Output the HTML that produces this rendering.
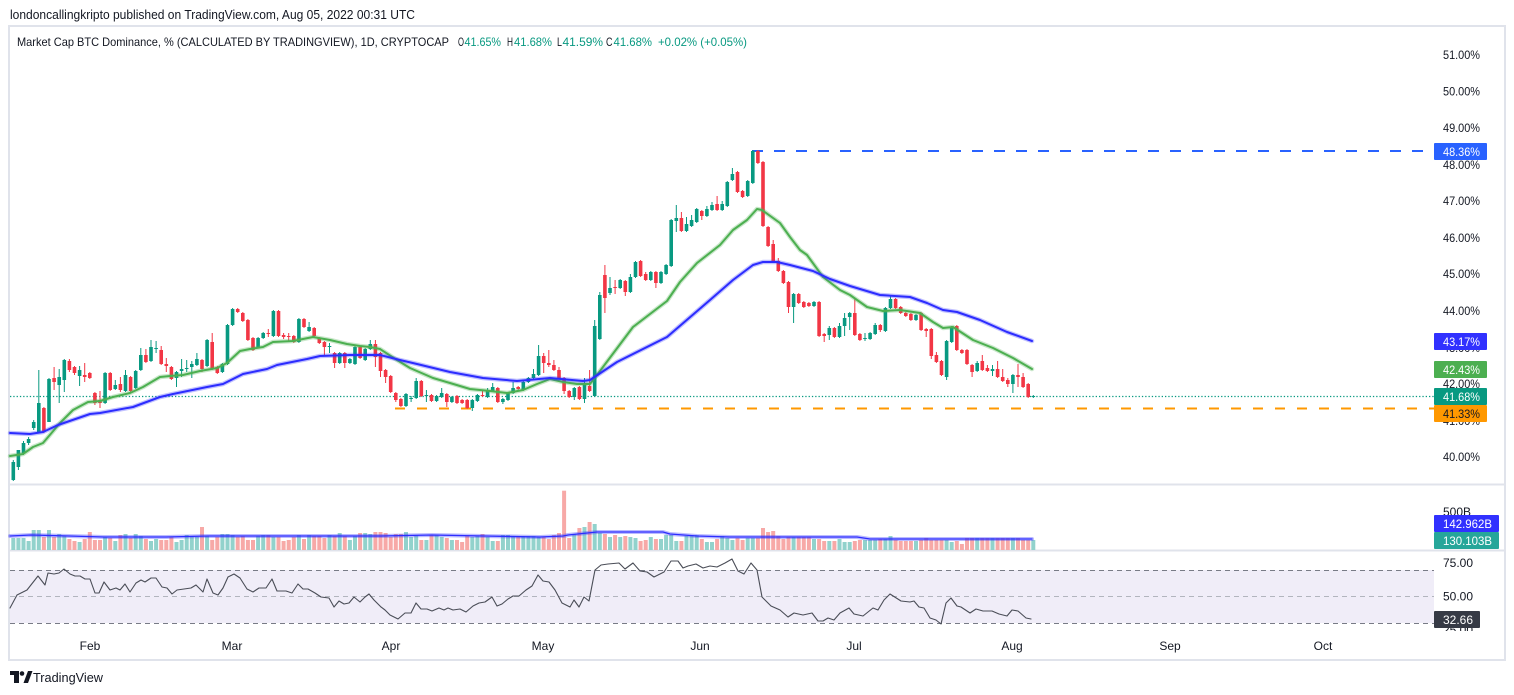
<!DOCTYPE html>
<html><head><meta charset="utf-8">
<style>
html,body{margin:0;padding:0;background:#fff;width:1514px;height:695px;overflow:hidden}
svg{display:block;font-family:"Liberation Sans",sans-serif}
</style></head><body>
<svg id="s" width="1514" height="695" viewBox="0 0 1514 695" xmlns="http://www.w3.org/2000/svg">
<rect width="1514" height="695" fill="#fff"/>
<text x="10" y="19" font-size="12.5" fill="#131722" textLength="405" lengthAdjust="spacingAndGlyphs">londoncallingkripto published on TradingView.com, Aug 05, 2022 00:31 UTC</text>
<rect x="9" y="26" width="1496" height="634" fill="none" stroke="#e0e3eb" stroke-width="2"/>
<line x1="9" y1="484.5" x2="1505" y2="484.5" stroke="#e0e3eb" stroke-width="2"/>
<line x1="9" y1="550.5" x2="1505" y2="550.5" stroke="#e0e3eb" stroke-width="2"/>

<!-- legend -->
<g font-size="12" fill="#131722">
<text x="17" y="46" textLength="432" lengthAdjust="spacingAndGlyphs">Market Cap BTC Dominance, % (CALCULATED BY TRADINGVIEW), 1D, CRYPTOCAP</text>
<text x="458" y="46" textLength="6" lengthAdjust="spacingAndGlyphs">O</text><text x="464.5" y="46" fill="#089981" textLength="36.5" lengthAdjust="spacingAndGlyphs">41.65%</text>
<text x="507" y="46" textLength="6" lengthAdjust="spacingAndGlyphs">H</text><text x="514" y="46" fill="#089981" textLength="38" lengthAdjust="spacingAndGlyphs">41.68%</text>
<text x="557" y="46" textLength="5" lengthAdjust="spacingAndGlyphs">L</text><text x="562.5" y="46" fill="#089981" textLength="40.5" lengthAdjust="spacingAndGlyphs">41.59%</text>
<text x="606" y="46" textLength="6.5" lengthAdjust="spacingAndGlyphs">C</text><text x="613.5" y="46" fill="#089981" textLength="38.5" lengthAdjust="spacingAndGlyphs">41.68%</text>
<text x="658" y="46" fill="#089981" textLength="89" lengthAdjust="spacingAndGlyphs">+0.02% (+0.05%)</text>
</g>

<!-- RSI band -->
<rect x="10" y="570" width="1424" height="53" fill="#f0edf8"/>
<line x1="10" y1="570.5" x2="1434" y2="570.5" stroke="#787b86" stroke-dasharray="5,4"/>
<line x1="10" y1="596.5" x2="1434" y2="596.5" stroke="#b2b5be" stroke-dasharray="5,4"/>
<line x1="10" y1="623.5" x2="1434" y2="623.5" stroke="#787b86" stroke-dasharray="5,4"/>

<!-- horizontal levels -->
<line x1="10" y1="396.5" x2="1434" y2="396.5" stroke="#089981" stroke-width="1.3" stroke-dasharray="1.3,2"/>
<line x1="752" y1="151" x2="1434" y2="151" stroke="#2962ff" stroke-width="2" stroke-dasharray="11,11"/>
<line x1="395" y1="408.5" x2="1434" y2="408.5" stroke="#ff9800" stroke-width="2" stroke-dasharray="10,12"/>

<g id="vol"></g>
<g id="cdl"></g>
<g id="lines"></g>

<!-- price axis -->
<g font-size="12" fill="#131722">
<text x="1443" y="59" textLength="37" lengthAdjust="spacingAndGlyphs">51.00%</text>
<text x="1443" y="95.5" textLength="37" lengthAdjust="spacingAndGlyphs">50.00%</text>
<text x="1443" y="132" textLength="37" lengthAdjust="spacingAndGlyphs">49.00%</text>
<text x="1443" y="169" textLength="37" lengthAdjust="spacingAndGlyphs">48.00%</text>
<text x="1443" y="205" textLength="37" lengthAdjust="spacingAndGlyphs">47.00%</text>
<text x="1443" y="242" textLength="37" lengthAdjust="spacingAndGlyphs">46.00%</text>
<text x="1443" y="278" textLength="37" lengthAdjust="spacingAndGlyphs">45.00%</text>
<text x="1443" y="315" textLength="37" lengthAdjust="spacingAndGlyphs">44.00%</text>
<text x="1443" y="352" textLength="37" lengthAdjust="spacingAndGlyphs">43.00%</text>
<text x="1443" y="388" textLength="37" lengthAdjust="spacingAndGlyphs">42.00%</text>
<text x="1443" y="425" textLength="37" lengthAdjust="spacingAndGlyphs">41.00%</text>
<text x="1443" y="461" textLength="37" lengthAdjust="spacingAndGlyphs">40.00%</text>
<text x="1443" y="516" textLength="28" lengthAdjust="spacingAndGlyphs">500B</text>
<text x="1443" y="567" textLength="30" lengthAdjust="spacingAndGlyphs">75.00</text>
<text x="1443" y="600.5" textLength="30" lengthAdjust="spacingAndGlyphs">50.00</text>
<text x="1443" y="634" textLength="30" lengthAdjust="spacingAndGlyphs">25.00</text>
</g>
<rect x="1434" y="631" width="70" height="8" fill="#fff"/>

<!-- tags -->
<g font-size="12">
<rect x="1434" y="143" width="53" height="17" rx="1" fill="#2962ff"/>
<text x="1443" y="156" fill="#fff" textLength="37" lengthAdjust="spacingAndGlyphs">48.36%</text>
<rect x="1434" y="333" width="53" height="17" rx="1" fill="#3131ff"/>
<text x="1443" y="346" fill="#fff" textLength="37" lengthAdjust="spacingAndGlyphs">43.17%</text>
<rect x="1434" y="361" width="53" height="17" rx="1" fill="#4caf50"/>
<text x="1443" y="374" fill="#fff" textLength="37" lengthAdjust="spacingAndGlyphs">42.43%</text>
<rect x="1434" y="388" width="53" height="17" rx="1" fill="#089981"/>
<text x="1443" y="401" fill="#fff" textLength="37" lengthAdjust="spacingAndGlyphs">41.68%</text>
<rect x="1434" y="405" width="53" height="17" rx="1" fill="#ff9800"/>
<text x="1443" y="418" fill="#131722" textLength="37" lengthAdjust="spacingAndGlyphs">41.33%</text>
<rect x="1434" y="515" width="65" height="17" rx="1" fill="#3131ff"/>
<text x="1443" y="528" fill="#fff" textLength="49" lengthAdjust="spacingAndGlyphs">142.962B</text>
<rect x="1434" y="532" width="65" height="17" rx="1" fill="#26a69a"/>
<text x="1443" y="545" fill="#fff" textLength="49" lengthAdjust="spacingAndGlyphs">130.103B</text>
<rect x="1434" y="611" width="46" height="17" rx="1" fill="#363a45"/>
<text x="1443" y="624" fill="#fff" textLength="30" lengthAdjust="spacingAndGlyphs">32.66</text>
</g>

<!-- time axis -->
<g font-size="12" fill="#131722" text-anchor="middle">
<text x="90" y="650">Feb</text>
<text x="232" y="650">Mar</text>
<text x="391" y="650">Apr</text>
<text x="543" y="650">May</text>
<text x="700" y="650">Jun</text>
<text x="854" y="650">Jul</text>
<text x="1012" y="650">Aug</text>
<text x="1170" y="650">Sep</text>
<text x="1323" y="650">Oct</text>
</g>

<!-- footer -->
<g fill="#131722">
<rect x="10" y="671" width="9" height="4"/>
<rect x="14" y="671" width="5" height="12"/>
<circle cx="22" cy="673.5" r="2.3"/>
<polygon points="23.5,683 28,671 32.5,671 28,683"/>
<text x="33" y="682" font-size="13" textLength="70" lengthAdjust="spacingAndGlyphs">TradingView</text>
</g>
</svg>
<script>
(function(){
var C=[[1,462,480,460,481],[1,450,467,450,470],[1,443,453,441,455],[1,439,443,437,445],[1,422,428,420,430],[1,403,432,370,432],[0,408,432,407,433],[1,379,422,378,422],[0,378,382,367,390],[1,377,385,369,403],
[1,360,380,359,392],[0,361,370,359,372],[0,367,373,366,375],[1,370,376,366,386],[0,375,377,363,382],[0,373,378,372,379],[0,393,403,392,405],[0,400,403,391,408],[1,373,403,372,404],[0,373,390,372,391],
[1,385,389,380,390],[0,384,390,377,392],[1,375,391,370,392],[0,377,391,376,392],[1,371,388,370,389],[1,355,370,348,371],[0,355,362,349,363],[1,347,361,340,362],[1,348,349,341,353],[0,350,364,346,365],
[0,364,366,358,372],[0,367,379,366,380],[1,372,378,371,387],[1,369,371,359,377],[1,368,369,360,372],[1,364,367,361,378],[1,359,365,353,366],[0,360,369,359,372],[1,340,366,339,367],[0,342,369,333,370],
[0,367,373,366,374],[1,364,372,363,373],[1,325,364,324,365],[1,309,325,308,326],[0,309,312,308,313],[0,313,321,312,322],[0,320,340,319,341],[0,338,350,337,351],[1,338,347,337,348],[1,333,338,332,339],
[0,333,334,329,337],[1,311,336,310,337],[0,311,336,310,337],[0,335,337,333,339],[0,336,337,333,342],[0,336,342,335,343],[1,319,342,318,343],[0,319,327,318,328],[1,327,331,322,332],[0,328,336,327,337],
[0,338,343,337,344],[0,342,347,341,355],[1,346,347,343,353],[0,353,363,352,368],[1,353,363,352,364],[0,353,363,352,368],[1,359,363,358,364],[1,347,364,346,365],[0,347,358,346,359],[1,349,360,348,361],
[1,344,349,340,350],[0,344,357,340,367],[0,353,371,352,377],[0,370,377,369,383],[0,376,392,375,393],[0,393,400,392,402],[0,399,406,398,407],[1,394,406,393,407],[1,398,399,396,402],[1,381,398,378,399],
[0,381,396,380,397],[1,395,396,390,402],[0,395,401,394,402],[1,396,401,395,402],[1,393,397,388,398],[0,394,402,393,407],[1,397,402,396,403],[0,396,403,395,404],[0,400,403,399,404],[0,400,408,399,409],
[1,400,408,399,411],[1,395,401,394,402],[0,395,396,391,397],[1,391,397,388,398],[1,387,391,383,392],[0,388,402,387,403],[1,399,402,398,404],[1,393,400,392,401],[1,388,393,382,394],[0,387,389,386,390],
[1,382,390,381,391],[1,378,382,377,383],[1,374,378,369,379],[1,356,375,345,376],[0,356,363,353,373],[0,363,365,350,367],[0,365,370,360,371],[0,370,378,367,379],[0,378,391,377,394],[0,391,397,390,398],
[1,388,397,387,400],[0,387,399,386,400],[1,384,399,378,403],[0,386,391,370,392],[1,326,396,320,397],[1,295,339,292,340],[0,275,298,265,313],[1,288,293,277,295],[0,287,288,280,294],[1,280,288,279,289],
[0,281,292,280,296],[1,277,292,274,293],[1,262,277,261,278],[0,261,276,260,277],[0,274,280,272,281],[1,272,280,271,281],[0,272,283,271,288],[1,272,283,271,284],[1,265,274,264,275],[1,220,266,219,267],
[1,218,221,205,232],[0,218,231,212,232],[1,224,231,217,232],[1,220,226,215,227],[1,209,222,208,223],[0,211,216,210,220],[1,209,216,206,217],[1,205,210,202,211],[0,204,210,196,211],[1,204,210,201,211],
[1,182,206,181,207],[1,174,180,168,181],[0,172,192,171,193],[0,191,197,190,198],[1,181,196,180,197],[1,151,183,150,184],[0,151,163,150,164],[0,162,226,161,227],[0,227,246,226,247],[0,244,262,240,263],
[0,261,271,258,272],[0,271,283,270,284],[0,282,307,281,313],[1,294,307,293,323],[0,294,303,293,304],[0,302,307,301,308],[0,303,306,302,307],[1,302,306,301,307],[0,302,336,301,337],[0,334,336,333,342],
[1,328,335,326,340],[0,328,337,327,338],[1,326,337,323,338],[1,318,326,313,336],[1,313,317,312,330],[0,313,335,298,336],[0,334,340,333,341],[1,338,339,333,341],[1,333,339,332,340],[1,325,334,323,335],
[0,325,330,324,332],[1,308,331,307,332],[1,299,308,295,309],[0,299,308,298,309],[0,307,313,306,314],[0,313,316,312,317],[0,314,320,313,321],[1,315,320,314,321],[0,313,330,312,331],[0,329,331,328,337],
[0,329,356,328,359],[0,355,362,352,363],[0,361,375,360,376],[1,341,377,340,380],[1,327,342,326,343],[0,326,350,325,351],[0,350,353,349,354],[0,350,364,349,365],[0,365,372,364,377],[1,363,371,361,372],
[0,361,370,355,371],[0,368,371,365,372],[1,369,371,365,376],[0,369,377,361,378],[0,377,381,369,382],[0,380,384,378,387],[1,375,384,374,393],[0,375,377,364,387],[0,377,387,373,388],[0,384,397,383,398],
[1,396,397,395,398]];
var VA=[162,162,162,171,138,138,159,138,159,150,156,165,171,174,165,144,168,168,159,162,171,153,150,162,150,156,165,171,165,168,168,159,174,168,153,159,159,129,156,168,159,150,150,153,159,156,168,168,156,153,153,159,159,171,168,159,153,165,153,156,156,162,153,156,147,156,168,156,147,147,150,144,144,147,159,150,150,144,159,153,168,168,153,153,159,162,168,168,174,156,159,156,150,159,171,171,153,153,156,156,156,156];
var VB=[156,159,159,165,153,147,20,162,150,132,129,114,120,147,150,159,153,159,156,159,162,171,168,159,165,165,153,153,171,171,156,153,153,165,174,174,165,156,162,168,162,168,162,162,162,132,144,141,156,165,159,159,159,159,159,165,165,171,171,171,165,174,174,171,168,168,168,168,165,165,156,168,171,171,171,171,168,162,168,168,168,168,174,171,180,162,162,162,162,162,162,162,162,162,162,162,168,168,168,168];
var V=VA.concat(VB);
var cs='',vs='';
for(var i=0;i<C.length;i++){
 var d=C[i],x=13.3+i*5.1,col=d[0]?'#089981':'#f23645';
 cs+='<rect x="'+(x-0.5).toFixed(2)+'" y="'+d[3]+'" width="1" height="'+(d[4]-d[3])+'" fill="'+col+'"/>';
 cs+='<rect x="'+(x-1.8).toFixed(2)+'" y="'+d[1]+'" width="3.6" height="'+Math.max(1,d[2]-d[1])+'" fill="'+col+'"/>';
 var z=V[i]||165,yt=484+z/3;
 vs+='<rect x="'+(x-2).toFixed(2)+'" y="'+yt.toFixed(1)+'" width="4" height="'+(550-yt).toFixed(1)+'" fill="'+(d[0]?'#92d2cc':'#f7a9a7')+'"/>';
}
document.getElementById('cdl').innerHTML=cs;
function pl(p,c,w,o){return '<polyline points="'+p+'" fill="none" stroke="'+c+'" stroke-width="'+w+'" stroke-opacity="'+(o||1)+'" stroke-linejoin="round" stroke-linecap="round"/>';}
var vma="10,536 31,535 69,536 104,537 166,537 208,536 311,536 381,536 432,535 484,536 540,537 563,536 568,535 597,532 613,532 663,532 670,534 697,536 730,537 780,537 857,537 870,539 1032,539";
vs+=pl(vma,'#3a3aff',4,0.35)+pl(vma,'#2d2dff',1.3);
document.getElementById('vol').innerHTML=vs;
var blue="10,433 30,434 43,432 58,425 90,414 100,413 133,407 160,397 173,394 207,387 223,384 243,374 267,369 277,365 307,359 320,356 350,355 380,355 400,360 417,364 450,372 483,378 517,381 550,378 583,381 590,380 617,362 667,337 710,300 733,280 753,265 763,262 777,262 790,265 813,271 830,279 850,286 880,295 910,297 927,303 943,310 957,312 980,320 1007,332 1032,341";
var green="10,456 23,454 33,447 43,443 60,423 73,410 88,402 100,401 113,397 130,393 143,387 160,377 170,376 183,375 200,371 217,368 227,363 240,351 250,349 263,347 273,342 293,341 313,337 330,340 347,344 360,346 370,347 380,349 397,360 410,368 433,378 450,383 470,389 490,391 507,393 523,390 537,384 550,379 563,382 577,384 590,384 603,367 633,327 667,301 680,282 697,263 720,245 733,230 747,220 757,209 762,210 780,223 790,237 800,250 807,255 823,277 840,290 850,295 867,307 883,311 900,310 920,313 933,322 943,328 953,327 973,340 993,348 1013,358 1032,369";
var rsi="10,608 17,595 27,590 38,576 45,585 48,573 54,574 59,573 64,569 70,574 75,576 80,576 85,579 90,579 95,593 99,593 104,582 110,590 116,588 120,590 125,584 130,592 136,583 141,580 145,582 151,578 156,578 162,587 167,588 172,594 177,590 184,589 191,588 196,585 203,592 207,579 213,593 218,595 223,588 228,577 234,574 240,578 247,589 253,592 259,588 266,588 272,579 277,591 286,591 292,593 298,584 303,589 308,589 315,593 321,597 329,598 334,607 339,601 344,604 349,603 354,597 360,602 365,597 369,594 374,600 381,607 385,610 390,615 398,619 405,613 411,613 416,603 421,609 427,609 432,611 439,608 444,610 448,608 453,610 460,609 466,612 473,606 479,603 485,602 492,597 497,606 502,604 508,599 513,596 519,596 526,590 532,586 538,575 543,581 549,582 555,590 562,603 570,607 574,600 579,607 584,597 589,601 595,570 601,565 608,564 619,563 625,569 633,563 640,571 647,572 654,577 664,572 671,561 678,561 683,568 688,566 696,564 703,568 710,566 717,567 725,563 732,559 738,571 744,574 751,563 757,570 762,597 771,606 780,610 788,617 794,613 803,615 812,613 818,621 823,621 828,618 834,620 840,613 849,608 854,614 863,616 873,608 878,610 884,600 890,594 901,601 910,602 914,601 919,607 924,608 930,618 936,620 941,624 946,603 951,598 957,606 961,607 970,613 976,609 983,611 992,611 999,614 1007,616 1012,610 1018,611 1026,618 1031,619";
var ls=pl(green,'#4caf50',4.5,0.3)+pl(green,'#4caf50',2)+pl(blue,'#3333ff',4.5,0.3)+pl(blue,'#2c2cff',2)+pl(rsi,'#4a4d57',1.1);
document.getElementById('lines').innerHTML=ls;
})();
</script>
</body></html>
